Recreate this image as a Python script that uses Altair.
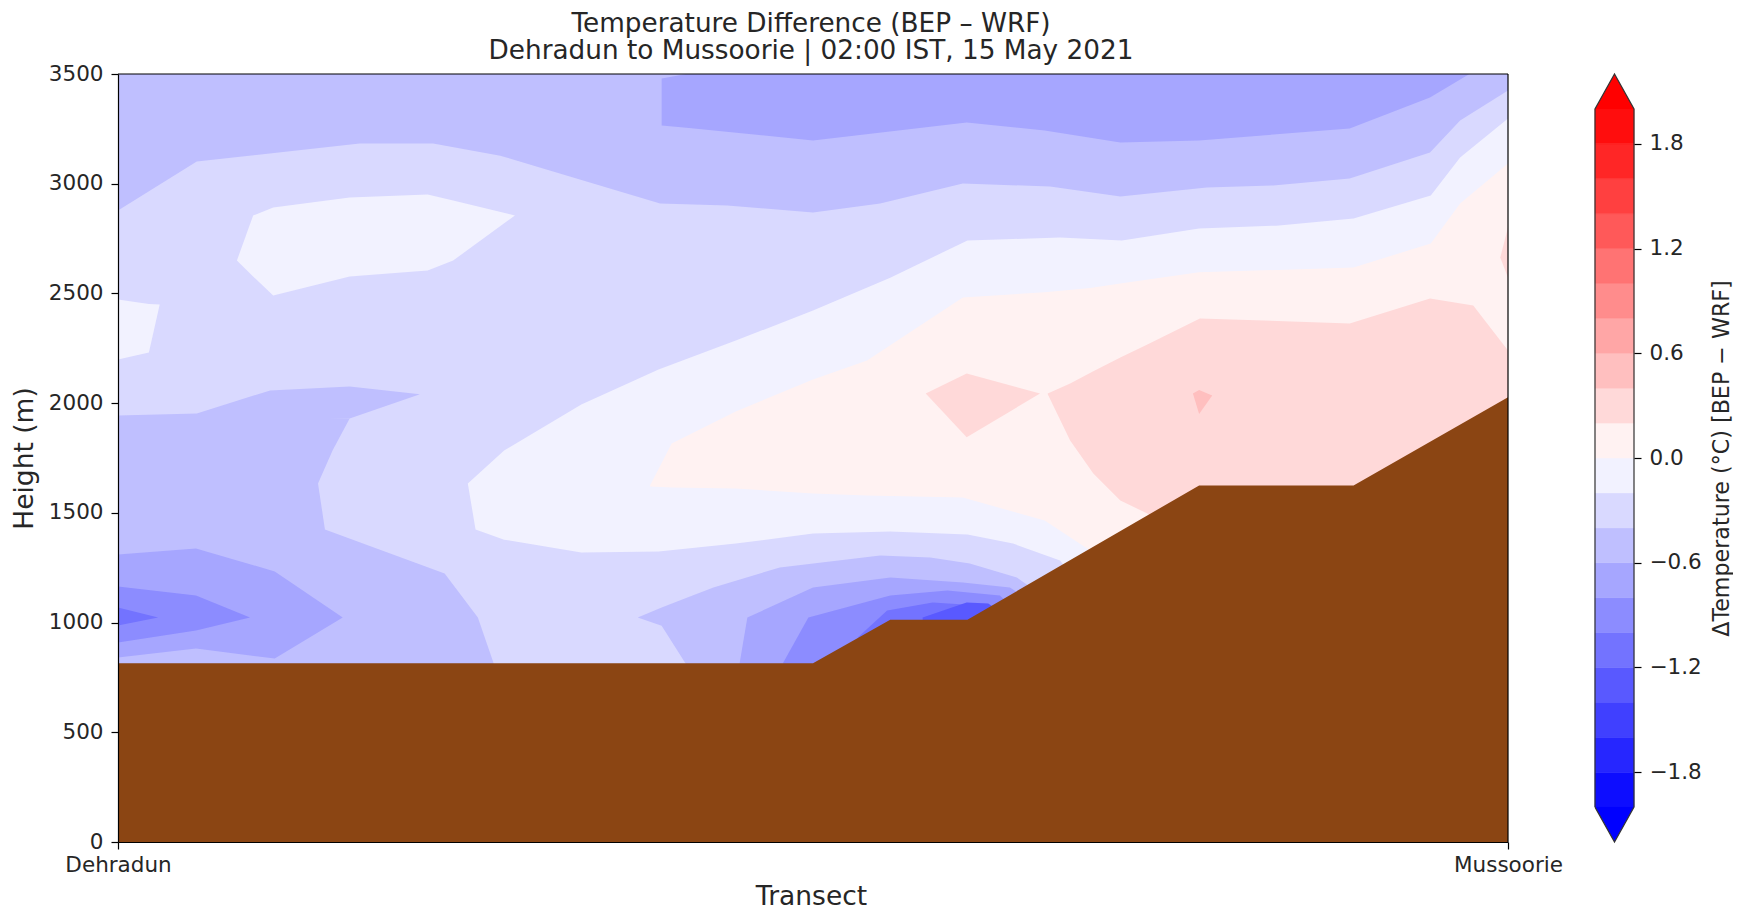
import altair as alt
import pandas as pd

TITLE = ["Temperature Difference (BEP – WRF)", "Dehradun to Mussoorie | 02:00 IST, 15 May 2021"]
FONT = "DejaVu Sans"
INK = "#262626"

# colour bands (-2 ... 2 in 0.2 steps)
levels = [round(-2 + 0.2 * i, 1) for i in range(21)]
band_colors = ["#0d0dff", "#2626ff", "#4040ff", "#5959ff", "#7373ff", "#8c8cff", "#a6a6ff", "#bfbfff", "#d9d9ff", "#f2f2ff",
               "#fff2f2", "#ffd9d9", "#ffbfbf", "#ffa6a6", "#ff8c8c", "#ff7373", "#ff5959", "#ff4040", "#ff2626", "#ff0d0d"]
K0, K1, K2, K3, K4, K5, K6 = "#f2f2ff", "#d9d9ff", "#bfbfff", "#a6a6ff", "#8c8cff", "#7373ff", "#5959ff"
P0, P1, P2 = "#fff2f2", "#ffd9d9", "#ffbfbf"
cbar_ticks = [-1.8, -1.2, -0.6, 0.0, 0.6, 1.2, 1.8]
height_ticks = [0, 500, 1000, 1500, 2000, 2500, 3000, 3500]

# terrain (transect index, height m)
terrain_x = [0, 9, 10, 11, 14, 16, 18]
terrain_h = [815, 815, 1013, 1013, 1625, 1625, 2027]

# contour regions: (x, lower height, upper height)
full_field = [(0, 0, 3500), (18, 0, 3500)]
upper_k2 = [(0, 2878, 3500), (1.02, 3101, 3500), (3.13, 3183, 3500), (4.08, 3183, 3500), (4.95, 3128, 3500),
            (5.98, 3019, 3500), (7.02, 2910, 3500), (7.89, 2901, 3500), (9, 2869, 3500), (9.87, 2910, 3500),
            (10.94, 3001, 3500), (12.07, 2987, 3500), (12.98, 2942, 3500), (14.1, 2983, 3500), (14.96, 2992, 3500),
            (15.95, 3024, 3500), (16.99, 3142, 3500), (17.38, 3288, 3500), (18, 3425, 3500)]
upper_k3 = [(7.04, 3265, 3480), (7.36, 3255, 3500), (9, 3197, 3500), (10.99, 3279, 3500), (12, 3243, 3500),
            (12.98, 3188, 3500), (14, 3197, 3500), (15.95, 3252, 3500), (16.99, 3393, 3500), (17.5, 3500, 3500)]
blob_k0 = [(1.54, 2650, 2650), (1.75, 2577, 2855), (2.01, 2490, 2892), (3.0, 2577, 2937), (4.01, 2605, 2951),
           (4.34, 2650, 2924), (5.14, 2855, 2855)]
edge_k0 = [(0, 2199, 2472), (0.40, 2231, 2452), (0.54, 2449, 2449)]
band_k0 = [(4.53, 1634, 1634), (4.63, 1424, 1666), (5.0, 1378, 1784), (6.0, 1319, 1994), (7.0, 1324, 2153), (8.0, 1360, 2285),
           (9, 1406, 2422), (10, 1415, 2572), (11, 1401, 2741), (11.59, 1360, 2748), (12.2, 1283, 2755),
           (13, 900, 2741), (14, 900, 2796), (15, 900, 2809), (16, 900, 2841), (17, 900, 2946),
           (17.38, 900, 3119), (18, 900, 3297)]
band_p0 = [(6.89, 1620, 1625), (7.17, 1615, 1816), (8.0, 1611, 1962), (9, 1588, 2108), (9.7, 1579, 2194),
           (10.94, 1570, 2482), (12, 1465, 2505), (12.59, 1329, 2525), (13, 1000, 2546), (14, 1000, 2596),
           (16, 1000, 2618), (17, 1000, 2728), (17.38, 1000, 2910), (18, 1000, 3092)]
band_p1 = [(12.04, 2040, 2044), (12.33, 1830, 2090), (12.63, 1679, 2145), (12.98, 1556, 2208), (13.33, 1497, 2267),
           (14.01, 1300, 2386), (15.95, 1300, 2363), (16.99, 1300, 2477), (17.55, 1300, 2445), (18, 1300, 2240)]
diamond_p1 = [(10.46, 2044, 2044), (10.99, 1844, 2135), (11.94, 2044, 2044)]
spot_p2 = [(13.92, 2044, 2044), (14.0, 1950, 2060), (14.17, 2035, 2035)]
edge_p1 = [(17.9, 2664, 2664), (18, 2572, 2800)]

left_k2_top = [(0, 1921, 1944), (1.02, 1921, 1953), (1.97, 1921, 2058), (3.0, 1930, 2076), (3.91, 2040, 2040)]
left_k2_side = [(1930, 3.0), (1785, 2.78), (1634, 2.59), (1424, 2.68), (1224, 4.23), (1023, 4.66), (819, 4.86), (736, 4.91)]
left_k3 = [(0, 841, 1310), (1.01, 882, 1338), (2.03, 836, 1233), (2.91, 1023, 1023)]
left_k4 = [(0, 909, 1164), (1.01, 964, 1123), (1.71, 1023, 1023)]
left_k5 = [(0, 987, 1069), (0.52, 1023, 1023)]

mid_k2 = [(6.73, 1023, 1023), (7.04, 986, 1069), (7.34, 819, 1110), (7.71, 645, 1160), (8.57, 645, 1251),
          (9.87, 645, 1306), (10.52, 645, 1296), (11.03, 645, 1269), (11.64, 645, 1205), (11.94, 645, 1130)]
mid_k3 = [(8.05, 815, 815), (8.15, 700, 1023), (9, 700, 1160), (10, 700, 1205), (10.94, 700, 1183),
          (11.55, 700, 1160), (11.81, 700, 1100)]
mid_k4 = [(8.61, 815, 815), (8.94, 700, 1023), (10, 700, 1123), (10.74, 700, 1146), (11.42, 700, 1123), (11.62, 700, 1055)]
mid_k5 = [(9.58, 800, 932), (9.96, 800, 1055), (10.55, 800, 1092), (11.16, 800, 1078), (11.42, 800, 1032)]
mid_k6 = [(10.42, 900, 1023), (10.99, 900, 1092), (11.27, 900, 1087), (11.42, 900, 1050)]

axis_style = dict(domain=True, domainColor="black", domainWidth=1.2, tickColor="black", tickWidth=1.2, tickSize=7,
                  grid=False, labelFont=FONT, labelFontSize=21.5, labelColor=INK, titleFont=FONT, titleFontSize=26.5,
                  titleFontWeight="normal", titleColor=INK, zindex=2)

x_scale = alt.Scale(domain=[0, 18], nice=False, zero=False)
y_scale = alt.Scale(domain=[0, 3500], nice=False)
x_axis = alt.Axis(values=[0, 18], labelExpr="datum.value == 0 ? 'Dehradun' : 'Mussoorie'", labelPadding=5,
                  titlePadding=8, labelFlush=False, titleX=693, **axis_style)
y_axis = alt.Axis(values=height_ticks, format="d", labelPadding=8, titlePadding=10, **axis_style)
X = alt.X("x:Q", scale=x_scale, axis=x_axis, title="Transect")
Y = alt.Y("lo:Q", scale=y_scale, axis=y_axis, title="Height (m)")


def region(points, color):
    df = pd.DataFrame(points, columns=["x", "lo", "hi"])
    return alt.Chart(df).mark_area(color=color, opacity=1, clip=True, interpolate="linear").encode(
        x=X, y=Y, y2=alt.Y2("hi:Q"))


side_df = pd.DataFrame(left_k2_side, columns=["lo", "x"]).assign(x0=0)
left_side = alt.Chart(side_df).mark_area(color=K2, orient="horizontal", clip=True).encode(
    y=Y, x=alt.X("x0:Q", scale=x_scale, axis=x_axis, title="Transect"), x2=alt.X2("x:Q"))

terrain_df = pd.DataFrame({"x": terrain_x, "lo": [0] * len(terrain_x), "hi": terrain_h})
terrain = region(terrain_df[["x", "lo", "hi"]].values.tolist(), "#8B4513")

frame_right = alt.Chart(pd.DataFrame({"x": [18]})).mark_rule(color="black", strokeWidth=1.2).encode(x=X)
frame_top = alt.Chart(pd.DataFrame({"lo": [3500]})).mark_rule(color="black", strokeWidth=1.2).encode(y=Y)

main = alt.layer(
    region(full_field, K1),
    region(upper_k2, K2), region(upper_k3, K3), region(blob_k0, K0), region(edge_k0, K0),
    region(band_k0, K0), region(band_p0, P0), region(band_p1, P1), region(diamond_p1, P1),
    region(spot_p2, P2), region(edge_p1, P1),
    region(left_k2_top, K2), left_side, region(left_k3, K3), region(left_k4, K4), region(left_k5, K5),
    region(mid_k2, K2), region(mid_k3, K3), region(mid_k4, K4), region(mid_k5, K5), region(mid_k6, K6),
    terrain, frame_right, frame_top,
).properties(
    width=1390, height=768,
    title=alt.TitleParams(text=TITLE, font=FONT, fontSize=26.3, fontWeight="normal", color=INK, anchor="middle",
                          lineHeight=27, offset=-1, dx=-2),
)

# colour bar
cb_scale_y = alt.Scale(domain=[-2.2, 2.2], nice=False, zero=False)
cb_scale_x = alt.Scale(domain=[0, 1], nice=False)
cb_axis_style = {k: v for k, v in axis_style.items() if k not in ("titleFontSize", "domain")}
cb_axis = alt.Axis(orient="right", values=cbar_ticks, labelExpr="replace(format(datum.value, '.1f'), '-', '−')",
                   labelPadding=8, titlePadding=32, titleAngle=270, titleFontSize=22.2, domain=False, **cb_axis_style)
CB_TITLE = "ΔTemperature (°C) [BEP − WRF]"
CX = alt.X("x:Q", scale=cb_scale_x, axis=None)
CY = alt.Y("lo:Q", scale=cb_scale_y, axis=cb_axis, title=CB_TITLE)

cb_df = pd.DataFrame({"lo": levels[:-1], "hi": levels[1:], "c": band_colors, "x": [0] * 20, "b": [1] * 20})
cb_bars = alt.Chart(cb_df).mark_rect(strokeWidth=0.5).encode(
    x=CX, x2="b:Q", y=CY, y2="hi:Q", fill=alt.Fill("c:N", scale=None), stroke=alt.Stroke("c:N", scale=None),
)

tri_up = pd.DataFrame({"x": [0, 0.5, 1], "lo": [2, 2, 2], "hi": [2, 2.2, 2]})
tri_dn = pd.DataFrame({"x": [0, 0.5, 1], "lo": [-2, -2, -2], "hi": [-2, -2.2, -2]})


def tri(df, color):
    return alt.Chart(df).mark_area(color=color).encode(x=CX, y=CY, y2="hi:Q")


outline_x = [0, 0, 0.5, 1, 1, 0.5, 0]
outline_y = [-2, 2, 2.2, 2, -2, -2.2, -2]
outline_df = pd.DataFrame({"x": outline_x, "lo": outline_y, "o": range(len(outline_x))})
outline = alt.Chart(outline_df).mark_line(color="#333333", strokeWidth=1.2).encode(x=CX, y=CY, order="o:Q")

cbar = alt.layer(cb_bars, tri(tri_up, "#ff0000"), tri(tri_dn, "#0000ff"), outline).properties(width=39, height=768)

chart = alt.hconcat(main, cbar, spacing=87, bounds="flush").properties(
    padding={"left": 3, "top": 2, "right": 0, "bottom": 0}
).configure_view(stroke=None)

chart.save("out.html", embed_options={"renderer": "svg", "actions": False})
